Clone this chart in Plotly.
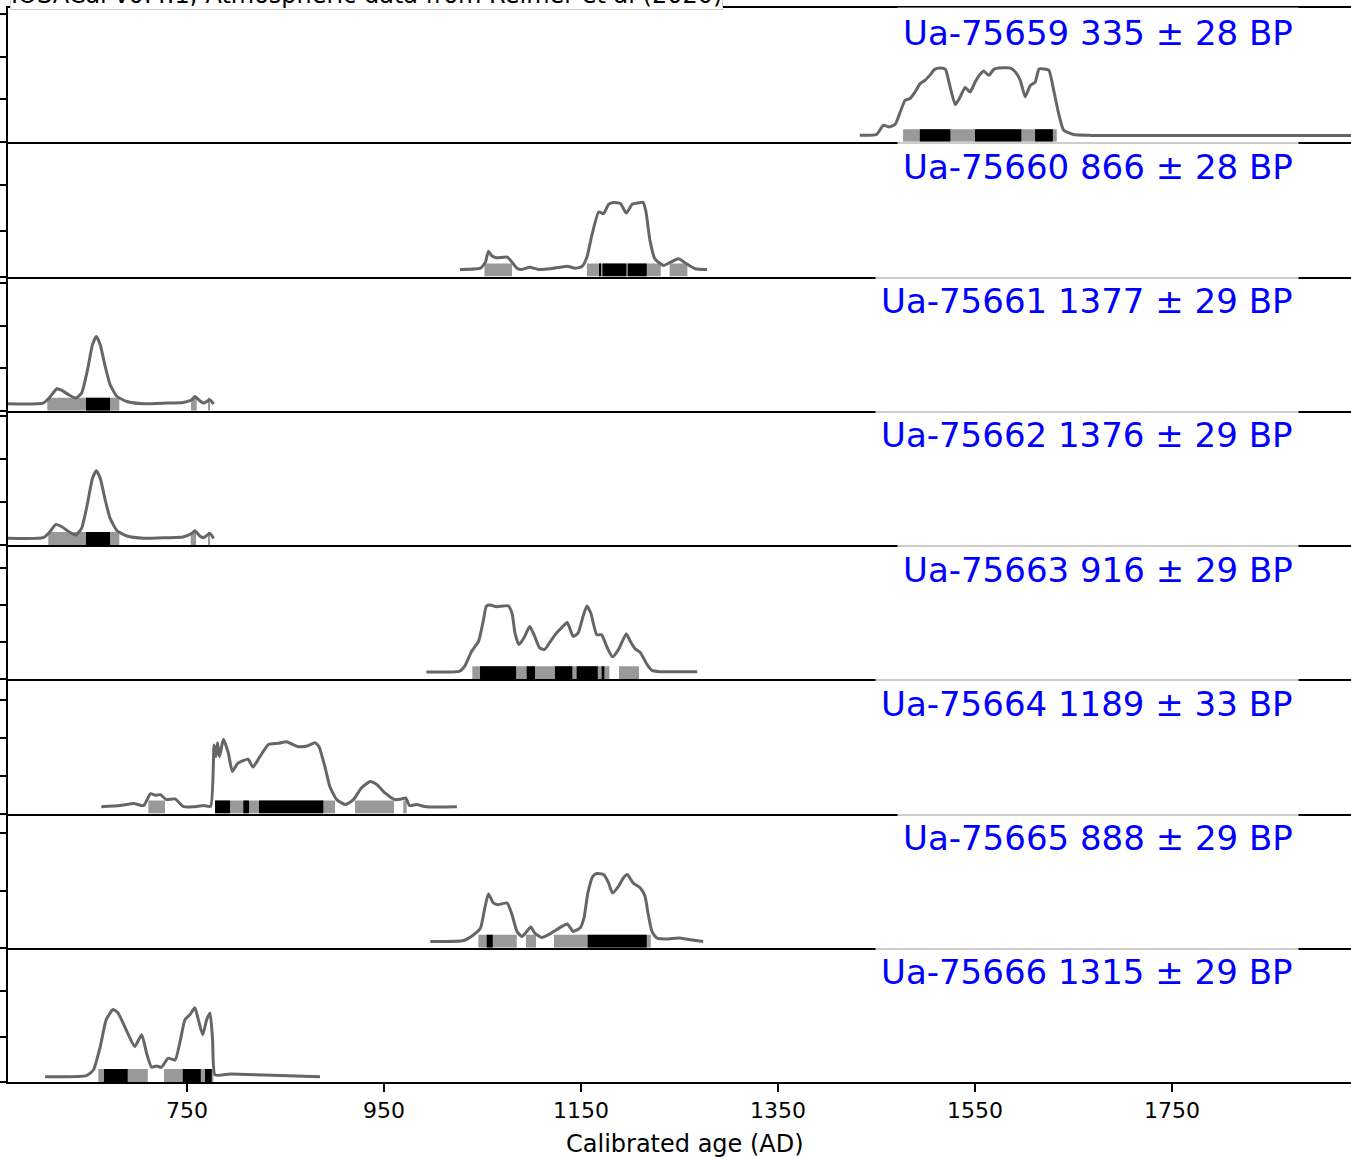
import plotly.graph_objects as go
from plotly.subplots import make_subplots

# Radiocarbon samples: laboratory code, conventional age (BP) and 1-sigma error
lab_codes = ["Ua-75659", "Ua-75660", "Ua-75661", "Ua-75662",
             "Ua-75663", "Ua-75664", "Ua-75665", "Ua-75666"]
bp_ages = [335, 866, 1377, 1376, 916, 1189, 888, 1315]
bp_errors = [28, 28, 29, 29, 29, 33, 29, 29]

# Calibrated probability density (x 0.001 per year) against calendar year AD
years_75659 = [1433, 1450, 1457, 1463, 1469, 1474, 1479, 1484, 1489, 1494, 1499, 1504, 1509,
               1515, 1520, 1524, 1530, 1535, 1540, 1545, 1550, 1555, 1559, 1564, 1569, 1574,
               1586, 1591, 1596, 1601, 1606, 1611, 1615, 1620, 1625, 1630, 1635, 1640, 1650,
               1667, 1935]
density_75659 = [0.81, 0.9, 1.98, 1.78, 2.1, 3.5, 4.9, 5.1, 5.85, 6.8, 7.2, 7.8, 8.5,
                 8.65, 8.5, 6.8, 4.4, 5.3, 6.4, 5.85, 7.0, 7.9, 8.3, 7.8, 8.5, 8.65,
                 8.65, 8.2, 7.2, 5.3, 6.6, 7.0, 8.55, 8.55, 8.4, 6.0, 3.3, 1.4, 0.9,
                 0.8, 0.8]

years_75660 = [1027, 1048, 1053, 1056, 1059, 1064, 1075, 1080, 1085, 1090, 1098, 1107, 1119,
               1136, 1144, 1151, 1156, 1161, 1168, 1173, 1178, 1183, 1190, 1196, 1202, 1208,
               1213, 1216, 1220, 1225, 1234, 1240, 1249, 1257, 1266, 1278]
density_75660 = [0.77, 0.91, 1.57, 2.78, 2.31, 2.05, 2.12, 1.57, 0.91, 0.77, 1.02, 0.77, 0.85,
                 1.13, 0.91, 1.1, 2.12, 4.5, 7.07, 6.89, 7.91, 8.1, 7.99, 6.96, 7.91, 8.06,
                 8.13, 7.07, 3.96, 1.94, 1.21, 1.51, 1.94, 1.4, 0.85, 0.77]

years_75661 = [568, 604, 610, 618, 623, 630, 637, 643, 649, 654, 658, 662, 667, 672, 679,
               689, 706, 729, 746, 755, 758, 763, 767, 773, 777]
density_75661 = [0.82, 0.9, 1.49, 2.59, 2.39, 1.88, 1.49, 2.08, 4.82, 7.76, 8.74, 7.76, 5.21,
                 3.06, 1.68, 1.09, 0.82, 0.9, 0.98, 1.29, 1.68, 1.18, 0.9, 1.29, 0.79]

years_75662 = [568, 604, 610, 617, 623, 630, 637, 643, 649, 654, 658, 662, 667, 672, 679,
               689, 706, 729, 746, 755, 758, 763, 767, 773, 777]
density_75662 = [0.78, 0.85, 1.43, 2.4, 2.13, 1.55, 1.16, 1.94, 4.85, 7.76, 8.65, 7.76, 5.23,
                 3.1, 1.66, 1.05, 0.78, 0.85, 0.93, 1.36, 1.66, 1.05, 0.85, 1.36, 0.78]

years_75663 = [993, 1027, 1032, 1039, 1046, 1051, 1054, 1058, 1064, 1076, 1080, 1083, 1087,
               1092, 1098, 1103, 1108, 1113, 1119, 1125, 1130, 1136, 1142, 1147, 1152, 1156,
               1160, 1166, 1171, 1176, 1182, 1188, 1196, 1200, 1205, 1210, 1217, 1222, 1230,
               1268]
density_75663 = [0.98, 1.11, 1.78, 3.78, 5.11, 8.0, 9.87, 10.0, 9.77, 9.9, 8.89, 6.22, 4.67,
                 5.56, 7.11, 5.78, 4.22, 4.0, 5.11, 6.22, 6.89, 7.64, 5.78, 6.22, 8.44, 9.87,
                 8.89, 6.0, 6.0, 4.44, 3.02, 4.0, 6.13, 5.11, 4.09, 3.64, 2.0, 1.2, 1.02,
                 1.02]

years_75664 = [663, 682, 696, 706, 713, 718, 723, 729, 738, 746, 756, 767, 774, 777.5, 779.5,
               781, 783, 787, 792, 796, 801, 807, 812, 817, 824, 833, 843, 851, 863, 872,
               880, 884, 890, 895, 902, 911, 919, 927, 936, 943, 951, 961, 968, 972, 976,
               983, 993, 1024]
density_75664 = [0.88, 1.05, 1.32, 1.05, 2.63, 2.41, 2.5, 1.84, 1.93, 0.96, 0.88, 1.05, 0.96,
                 9.08, 7.54, 9.38, 7.54, 9.83, 7.99, 5.57, 6.58, 7.01, 7.2, 6.15, 7.54, 9.17,
                 9.3, 9.51, 8.86, 8.95, 9.38, 8.86, 6.22, 3.59, 1.84, 1.18, 1.84, 3.38, 4.25,
                 3.82, 2.72, 1.84, 1.93, 2.07, 1.05, 1.18, 0.88, 0.88]

years_75665 = [997, 1031, 1041, 1048, 1052, 1056, 1061, 1066, 1075, 1080, 1085, 1090, 1095,
               1099, 1103, 1110, 1120, 1129, 1136, 1142, 1149, 1153, 1157, 1162, 1166, 1173,
               1178, 1182, 1188, 1193, 1197, 1203, 1210, 1215, 1218, 1222, 1227, 1237, 1249,
               1261, 1274]
density_75665 = [0.55, 0.64, 1.14, 1.73, 3.33, 4.71, 3.92, 3.77, 3.92, 2.89, 1.43, 0.99, 1.43,
                 1.82, 1.29, 0.9, 1.29, 1.78, 2.08, 1.43, 1.73, 2.6, 4.8, 6.25, 6.49, 6.4,
                 5.67, 4.8, 5.38, 6.11, 6.4, 5.67, 5.24, 4.5, 3.04, 1.43, 0.85, 0.76, 0.85,
                 0.7, 0.55]

years_75666 = [606, 648, 655, 662, 668, 675, 680, 689, 697, 704, 709, 714, 719, 724, 731,
               738, 743, 748, 753, 758, 761.5, 766, 770, 773.4, 776, 778.5, 794, 828, 885]
density_75666 = [0.59, 0.7, 1.33, 3.92, 6.89, 8.0, 7.63, 5.59, 3.92, 5.22, 3.19, 1.63, 1.78,
                 1.63, 2.63, 2.44, 4.48, 6.89, 7.44, 8.19, 6.89, 5.22, 6.89, 7.63, 4.67, 0.78,
                 0.89, 0.78, 0.59]

# Highest posterior density ranges (calendar year AD): 95 % and 68 %
hpd95_75659 = [(1477, 1633)]
hpd68_75659 = [(1494, 1525), (1550, 1597), (1611, 1629)]
hpd95_75660 = [(1052, 1080), (1156, 1231), (1240, 1258)]
hpd68_75660 = [(1168.3, 1170.3), (1171.8, 1196), (1197.5, 1216.7)]
hpd95_75661 = [(608.2, 681.3), (754.1, 759.9), (772.2, 773.2)]
hpd68_75661 = [(647.5, 671.9)]
hpd95_75662 = [(609.2, 681.3), (753.8, 759.2), (772.2, 773.2)]
hpd68_75662 = [(647.5, 671.9)]
hpd95_75663 = [(1039.7, 1178.8), (1188.6, 1208.9)]
hpd68_75663 = [(1047.5, 1084.1), (1094.9, 1103.3), (1123.6, 1141.2), (1145.6, 1167),
               (1171, 1173.7)]
hpd95_75664 = [(710.8, 727.7), (778.5, 900.3), (920.6, 960.2), (969.6, 973)]
hpd68_75664 = [(778.5, 793.7), (807.2, 813), (823.1, 888.4)]
hpd95_75665 = [(1045.8, 1084.8), (1094.2, 1104.3), (1122.6, 1220.8)]
hpd68_75665 = [(1054.3, 1060.4), (1156.8, 1216.7)]
hpd95_75666 = [(660, 710.2), (726.7, 776.8)]
hpd68_75666 = [(665.8, 689.8), (745.7, 764), (768.3, 775.1)]

x_ticks = [750, 950, 1150, 1350, 1550, 1750]
x_title = "Calibrated age (AD)"
header = "IOSACal v0.4.1; Atmospheric data from Reimer et al (2020)"

samples = [
    (years_75659, density_75659, hpd95_75659, hpd68_75659),
    (years_75660, density_75660, hpd95_75660, hpd68_75660),
    (years_75661, density_75661, hpd95_75661, hpd68_75661),
    (years_75662, density_75662, hpd95_75662, hpd68_75662),
    (years_75663, density_75663, hpd95_75663, hpd68_75663),
    (years_75664, density_75664, hpd95_75664, hpd68_75664),
    (years_75665, density_75665, hpd95_75665, hpd68_75665),
    (years_75666, density_75666, hpd95_75666, hpd68_75666),
]

n = len(samples)
X_RANGE = [568.3, 1931.7]
FONT = "DejaVu Sans"

fig = make_subplots(rows=n, cols=1, shared_xaxes=True, vertical_spacing=0)


def interval_bars(ranges, height, color):
    return go.Bar(
        x=[(a + b) / 2 for a, b in ranges],
        width=[b - a for a, b in ranges],
        y=[height] * len(ranges),
        base=0,
        marker=dict(color=color, line=dict(width=0)),
        hoverinfo="skip",
        showlegend=False,
    )


for i, (yrs, dens, h95, h68) in enumerate(samples):
    row = i + 1
    top = max(dens) * 1.81
    bar_h = top * 0.097
    fig.add_trace(interval_bars(h95, bar_h, "#999999"), row=row, col=1)
    fig.add_trace(interval_bars(h68, bar_h, "#000000"), row=row, col=1)
    fig.add_trace(go.Scatter(x=yrs, y=dens, mode="lines",
                             line=dict(color="#666666", width=3, shape="spline",
                                       smoothing=0.5),
                             hoverinfo="skip", showlegend=False), row=row, col=1)
    fig.update_yaxes(range=[0, top], tickvals=[v for v in (0, 5, 10, 15) if v <= top],
                     ticks="outside", ticklen=8, tickwidth=1.5, tickcolor="black",
                     showticklabels=False, showline=True, linecolor="black",
                     linewidth=1.5, showgrid=False, zeroline=False, row=row, col=1)
    # panel boundaries coincide, so only the first panel needs its top line
    fig.update_xaxes(range=X_RANGE, showline=True, mirror=(row == 1), linecolor="black",
                     linewidth=1.5, showgrid=False, zeroline=False,
                     ticks="outside" if row == n else "",
                     tickvals=x_ticks, ticklen=8, tickwidth=1.5, tickcolor="black",
                     showticklabels=(row == n),
                     tickfont=dict(family=FONT, size=22, color="black"),
                     row=row, col=1)
    ydom = "y domain" if row == 1 else f"y{row} domain"
    fig.add_annotation(
        xref="paper", yref=ydom, x=(1299 - 8) / 1343, y=1,
        xanchor="right", yanchor="top", yshift=1.5,
        text=f"{lab_codes[i]} {bp_ages[i]} ± {bp_errors[i]} BP",
        showarrow=False, font=dict(family=FONT, size=34, color="#0000ff"),
        bgcolor="rgba(255,255,255,0.8)", borderpad=5,
    )

fig.add_annotation(
    xref="paper", yref="paper", x=(366 - 8) / 1343, y=1, xanchor="center",
    yanchor="bottom", yshift=-2, text=header, showarrow=False,
    font=dict(family=FONT, size=24, color="black"),
    bgcolor="white", bordercolor="#cccccc", borderwidth=1, borderpad=0,
)
fig.add_annotation(
    xref="paper", yref="paper", x=(685 - 8) / 1343, y=0, xanchor="center",
    yanchor="top", yshift=-46, text=x_title, showarrow=False,
    font=dict(family=FONT, size=24, color="black"),
)

fig.update_layout(
    width=1351, height=1157,
    margin=dict(l=8, r=0, t=8, b=75),
    plot_bgcolor="white", paper_bgcolor="white",
    barmode="overlay", showlegend=False,
    font=dict(family=FONT),
)

fig.write_html("out.html")
